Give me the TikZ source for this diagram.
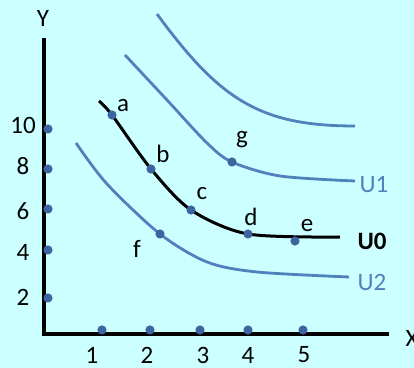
\documentclass[tikz,border=0pt]{standalone}
\usepackage{fontspec}
\setmainfont{Carlito}
\usepackage{tikz}
\usetikzlibrary{positioning}
\definecolor{bgcyan}{RGB}{204,255,255}
\definecolor{ublue}{RGB}{79,129,189}
\definecolor{dotblue}{RGB}{62,100,160}

\begin{document}
\begin{tikzpicture}[x=0.5pt, y=-0.5pt,
    every node/.style={font=\fontsize{12.5}{14}\selectfont},
    dot/.style={circle, fill=dotblue, inner sep=0pt, minimum size=4.6pt},
    ucurve/.style={ublue, line width=1.4pt},
    lbl/.style={inner sep=0pt}]
      \fill[bgcyan] (0,0) rectangle (414,368);
      \useasboundingbox (0,0) rectangle (414,368);

      % axes
      \coordinate (o) at (44,334);
      \coordinate (ytop) at (44,38);
      \coordinate (xend) at (389,334);
      \draw[line width=2pt] (ytop) -- (o) -- (xend);
      \node[lbl] (ylab) at (43,18) {Y};
      \node[lbl] (xlab) at (412,338) {X};

      \foreach \v/\yy/\ly in {2/298/297, 4/250/252, 6/209/211, 8/169/166, 10/129/125} {
        \node[dot] (y\v) at (48,\yy) {};
        \node[lbl] (ly\v) at (23,\ly) {\v};
      }
      \foreach \v/\xx/\lx in {1/102/92, 2/150/147, 3/200/203, 4/248/248, 5/303/304} {
        \node[dot] (x\v) at (\xx,330) {};
        \node[lbl] (lx\v) at (\lx,355) {\v};
      }

      % indifference curves
      \coordinate (pa) at (112,115);
      \coordinate (pb) at (151,169);
      \coordinate (pc) at (191,210);
      \coordinate (pd) at (248,234);
      \coordinate (pf) at (160,234);
      \coordinate (pg) at (232,162);
      \coordinate (t0) at (157,14);
      \coordinate (t1) at (355,126);
      \draw[ucurve] (t0) .. controls (220,100) and (260,126) .. (t1);
      \draw[ucurve] plot[smooth] coordinates {(125,55) (167,100) (207,143) (pg) (280,176) (355,181)};
      \draw[ucurve] plot[smooth] coordinates {(76,143) (107,184) (pf) (207,262) (257,272) (349,277)};
      \draw[line width=1.5pt] plot[smooth] coordinates {(99,101) (pa) (pb) (pc) (pd) (340,237)};

      \node[dot] (a) at (pa) {};
      \node[dot] (b) at (pb) {};
      \node[dot] (c) at (pc) {};
      \node[dot] (d) at (pd) {};
      \node[dot] (e) at (295,241) {};
      \node[dot] (f) at (pf) {};
      \node[dot] (g) at (pg) {};

      \node[lbl] (la) at (123,106) {a};
      \node[lbl] (lb) at (163,154) {b};
      \node[lbl] (lc) at (202,194) {c};
      \node[lbl] (ld) at (251,217) {d};
      \node[lbl] (le) at (307,226) {e};
      \node[lbl] (lf) at (137,249) {f};
      \node[lbl] (lg) at (242,140) {g};

      \node[lbl, font=\fontsize{12.5}{14}\selectfont\bfseries] (u0) at (372,241) {U0};
      \node[lbl, text=ublue] (u1) at (374,185) {U1};
      \node[lbl, text=ublue] (u2) at (372,282) {U2};
    \end{tikzpicture}
\end{document}
